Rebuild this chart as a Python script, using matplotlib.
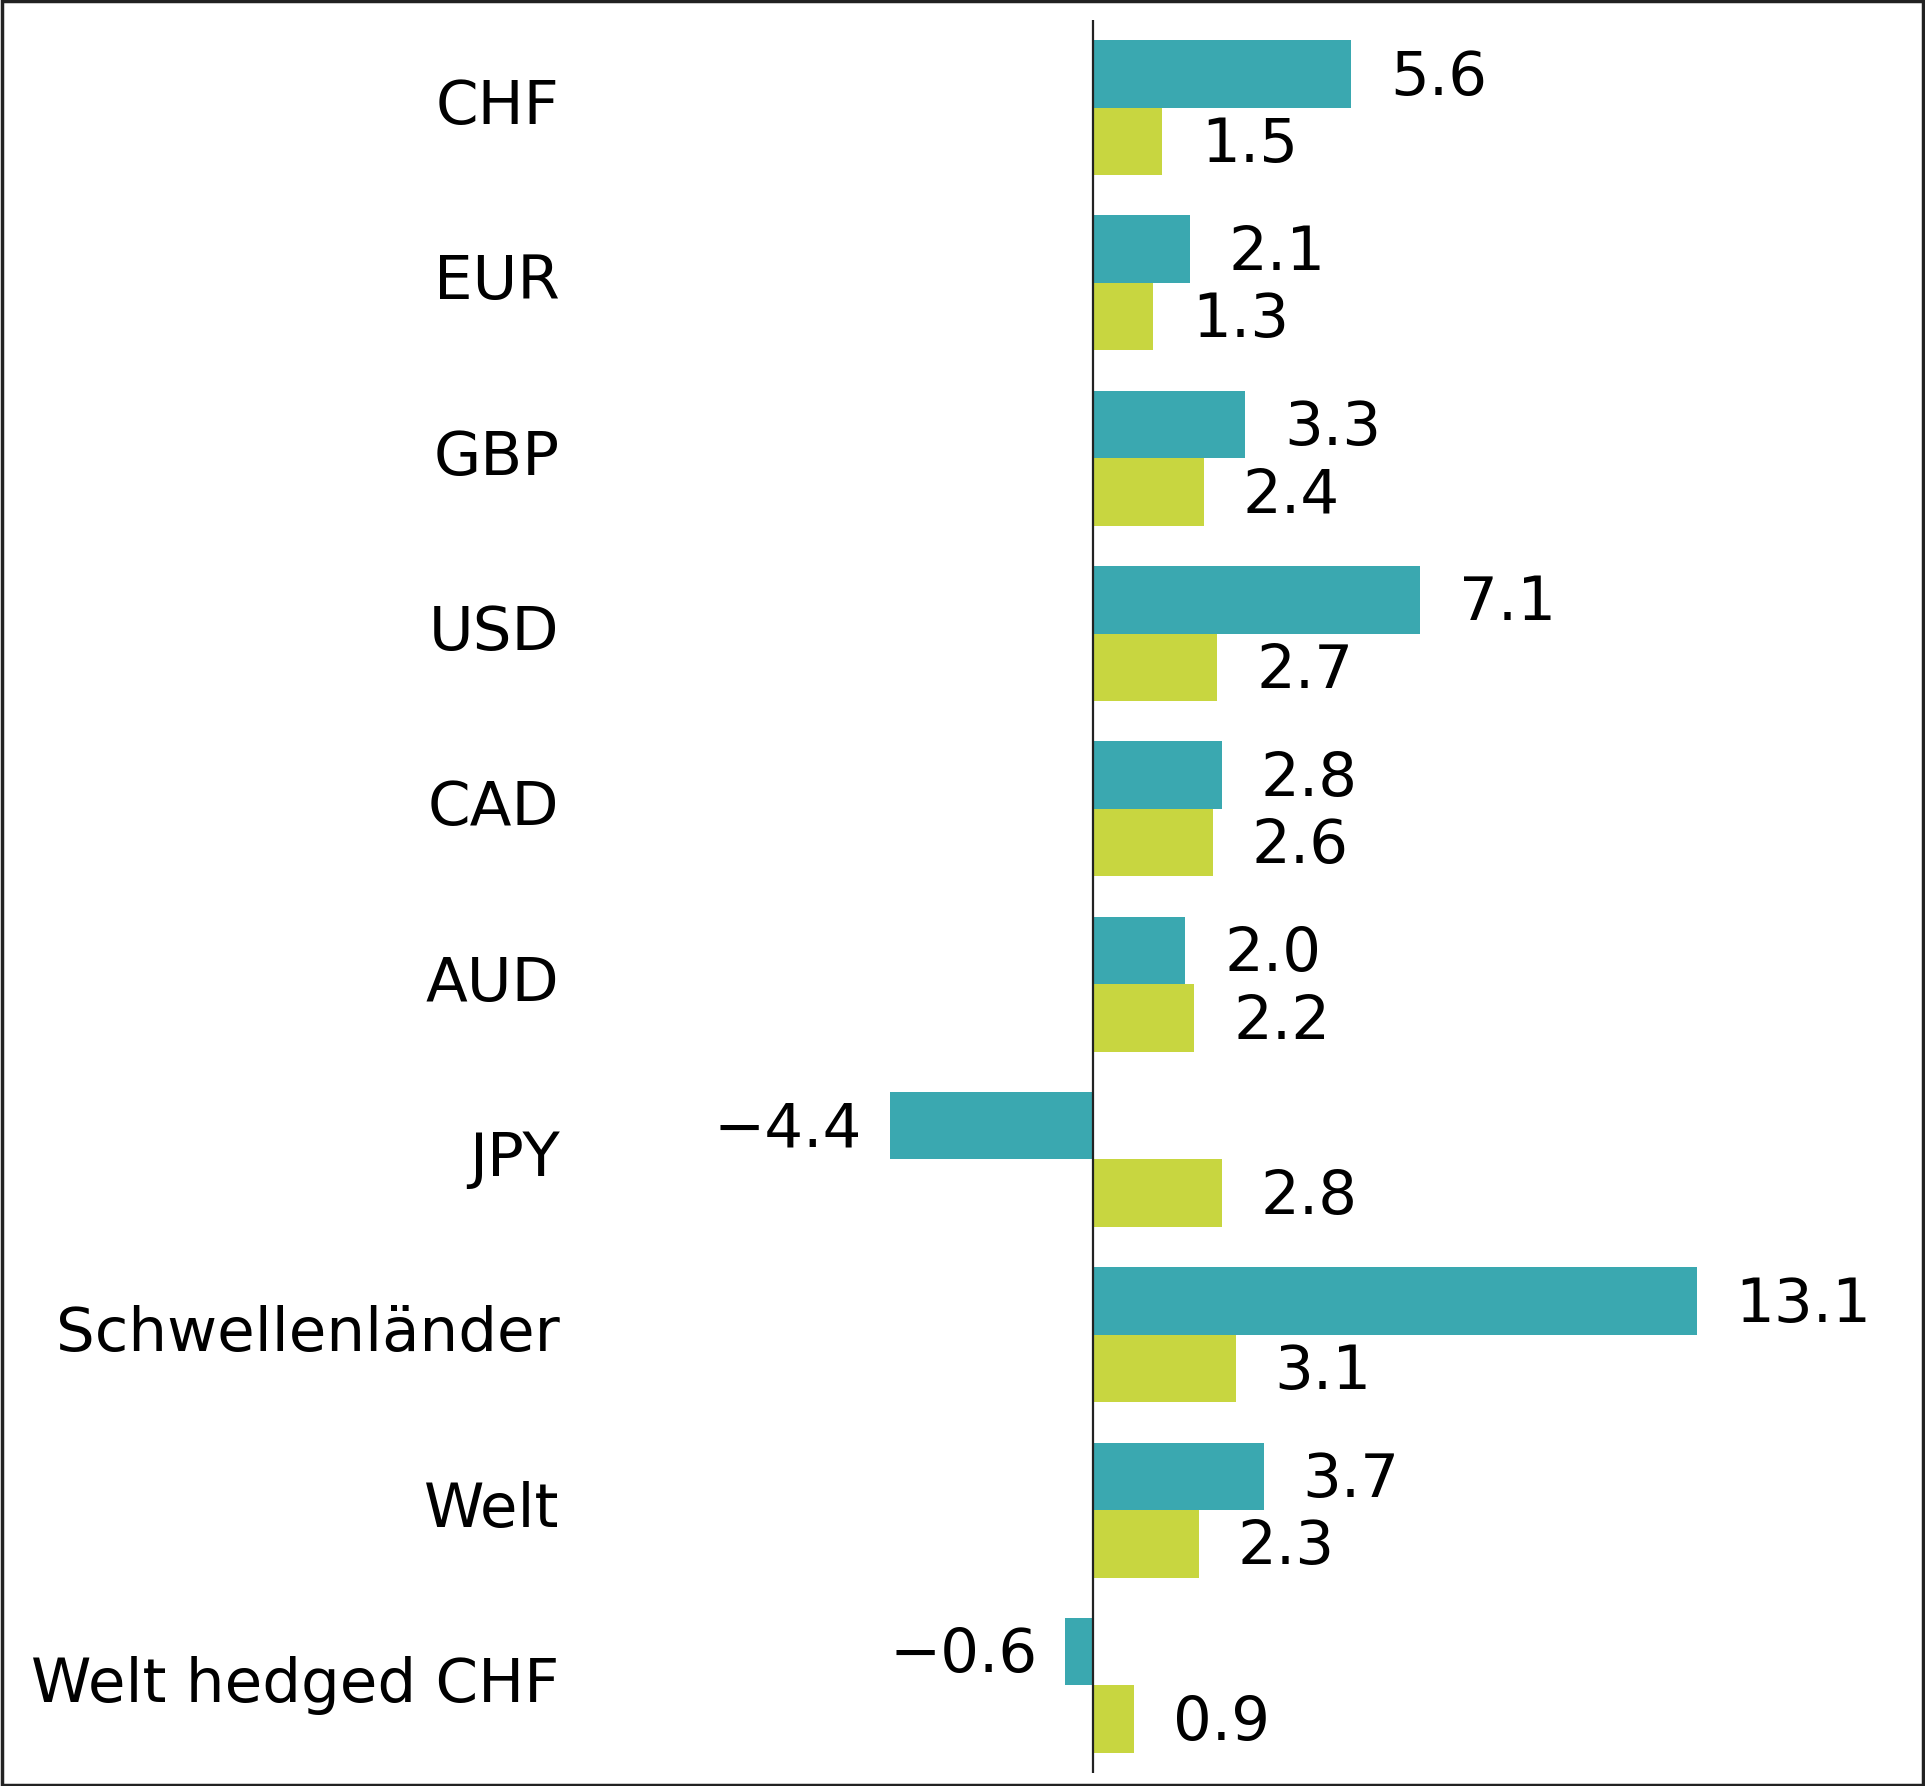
import matplotlib
matplotlib.use("Agg")
import matplotlib.pyplot as plt
from matplotlib.patches import Rectangle
from matplotlib.transforms import offset_copy

categories = ["CHF", "EUR", "GBP", "USD", "CAD", "AUD", "JPY",
              "Schwellenländer", "Welt", "Welt hedged CHF"]
series_a = [5.6, 2.1, 3.3, 7.1, 2.8, 2.0, -4.4, 13.1, 3.7, -0.6]
series_b = [1.5, 1.3, 2.4, 2.7, 2.6, 2.2, 2.8, 3.1, 2.3, 0.9]

TEAL = "#3AA8B0"
LIME = "#C8D640"
FONT = "DejaVu Sans"
FS = 44

fig = plt.figure(figsize=(19.25, 17.86), dpi=100)
ax = fig.add_axes([0.4241, 0.00728, 0.4909, 0.9815])

pos = list(range(len(categories)))
h = 0.385
bars_a = ax.barh([p - h / 2 for p in pos], series_a, height=h, color=TEAL)
bars_b = ax.barh([p + h / 2 for p in pos], series_b, height=h, color=LIME)

ax.set_xlim(-6, 14.5)
ax.set_ylim(9.5, -0.5)
ax.axvline(0, color="#222222", linewidth=1.6)

for spine in ax.spines.values():
    spine.set_visible(False)
ax.set_xticks([])
ax.set_yticks(pos)
ax.set_yticklabels(categories, fontsize=FS, family=FONT, va="center")
ax.tick_params(axis="y", length=0, pad=185)

for bars in (bars_a, bars_b):
    for bar in bars:
        val = bar.get_width()
        yc = bar.get_y() + bar.get_height() / 2
        if val >= 0:
            tr = offset_copy(ax.transData, fig=fig, x=28, y=-3, units="points")
            ha = "left"
        else:
            tr = offset_copy(ax.transData, fig=fig, x=-20, y=-3, units="points")
            ha = "right"
        ax.text(val, yc, f"{val:.1f}".replace("-", "\u2212"), transform=tr,
                ha=ha, va="center", fontsize=FS, family=FONT)

fig.add_artist(Rectangle((0.0008, 0.0008), 0.9984, 0.9984, transform=fig.transFigure,
                         fill=False, edgecolor="#222222", linewidth=2.5))

plt.savefig("out.png", dpi=100)
plt.close()
